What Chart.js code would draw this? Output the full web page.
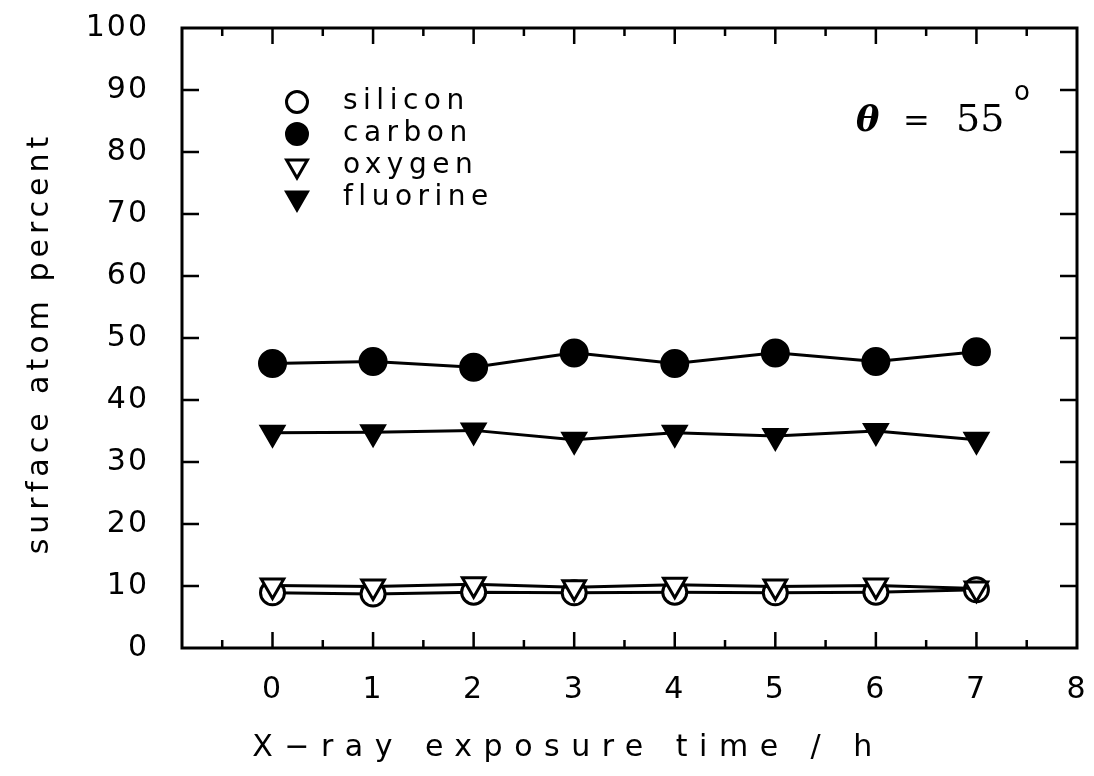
<!DOCTYPE html>
<html>
<head>
<meta charset="utf-8">
<script src="https://cdn.jsdelivr.net/npm/chart.js@4/dist/chart.umd.min.js"></script>
<style>
  html, body { margin: 0; padding: 0; background: #fff; }
  #wrap { width: 1094px; height: 776px; }
</style>
</head>
<body>
<div id="wrap"><canvas id="chart"></canvas></div>
<script>
// exposure time (h)
var times = [0, 1, 2, 3, 4, 5, 6, 7];
// surface atom percent
var silicon = [8.9, 8.7, 9.0, 8.9, 9.0, 8.9, 9.0, 9.4];
var carbon = [45.9, 46.2, 45.3, 47.6, 45.9, 47.6, 46.2, 47.8];
var oxygen = [10.1, 9.9, 10.3, 9.8, 10.2, 9.9, 10.1, 9.6];
var fluorine = [34.7, 34.8, 35.1, 33.6, 34.7, 34.2, 35.0, 33.6];

var xTicks = [0, 1, 2, 3, 4, 5, 6, 7, 8];
var xMinorTicks = [-0.5, 0.5, 1.5, 2.5, 3.5, 4.5, 5.5, 6.5, 7.5];
var yTicks = [0, 10, 20, 30, 40, 50, 60, 70, 80, 90, 100];

var seriesNames = ['silicon', 'carbon', 'oxygen', 'fluorine'];

function pts(ys) {
  return times.map(function (t, i) { return { x: t, y: ys[i] }; });
}

function makeSet(label, ys, style, filled, radius, order) {
  return {
    label: label,
    data: pts(ys),
    borderColor: '#000',
    borderWidth: 3,
    pointStyle: style,
    pointRotation: style === 'triangle' ? 180 : 0,
    pointRadius: radius,
    pointBorderWidth: 3,
    pointBackgroundColor: filled ? '#000' : '#fff',
    pointBorderColor: '#000',
    tension: 0,
    order: order
  };
}

var FONT = '"DejaVu Sans", "Liberation Sans", sans-serif';

// no extra room for the edge labels, the frame is fixed
function noPad(s) {
  s.paddingTop = 0; s.paddingBottom = 0;
  s.paddingLeft = 0; s.paddingRight = 0;
}

// frame, tick marks, titles, legend and angle note
var decorPlugin = {
  id: 'decor',
  beforeDraw: function (chart) {
    chart.ctx.letterSpacing = '2px';
  },
  afterDraw: function (chart) {
    var ctx = chart.ctx;
    var a = chart.chartArea;
    var xs = chart.scales.x, ys = chart.scales.y;
    ctx.save();
    ctx.strokeStyle = '#000';
    ctx.fillStyle = '#000';
    ctx.lineWidth = 3;
    ctx.strokeRect(a.left, a.top, a.right - a.left, a.bottom - a.top);

    ctx.lineWidth = 2.5;
    ctx.beginPath();
    xTicks.concat(xMinorTicks).forEach(function (v) {
      var len = xMinorTicks.indexOf(v) >= 0 ? 8 : 16;
      var px = xs.getPixelForValue(v);
      if (px <= a.left + 2 || px >= a.right - 2) return;
      ctx.moveTo(px, a.bottom); ctx.lineTo(px, a.bottom - len);
      ctx.moveTo(px, a.top); ctx.lineTo(px, a.top + len);
    });
    yTicks.forEach(function (v) {
      var py = ys.getPixelForValue(v);
      if (py <= a.top + 2 || py >= a.bottom - 2) return;
      ctx.moveTo(a.left, py); ctx.lineTo(a.left + 17, py);
      ctx.moveTo(a.right, py); ctx.lineTo(a.right - 17, py);
    });
    ctx.stroke();

    // axis titles
    ctx.font = '30px ' + FONT;
    ctx.textAlign = 'center';
    ctx.textBaseline = 'middle';
    ctx.letterSpacing = '11.5px';
    ctx.fillText('X\u2212ray exposure time / h', 568, 748);
    ctx.letterSpacing = '5px';
    ctx.save();
    ctx.translate(40, 343);
    ctx.rotate(-Math.PI / 2);
    ctx.fillText('surface atom percent', 0, 0);
    ctx.restore();

    // legend
    ctx.letterSpacing = '5.5px';
    ctx.font = '28px ' + FONT;
    ctx.textAlign = 'left';
    chart.data.datasets.forEach(function (ds, i) {
      var cy = 102 + i * 32, cx = 297;
      ctx.lineWidth = 3;
      ctx.beginPath();
      if (ds.pointStyle === 'circle') {
        ctx.arc(cx, cy, 10.5, 0, Math.PI * 2);
      } else {
        var r = 12;
        ctx.moveTo(cx - r * 0.866, cy - r / 2);
        ctx.lineTo(cx + r * 0.866, cy - r / 2);
        ctx.lineTo(cx, cy + r);
        ctx.closePath();
      }
      ctx.fillStyle = ds.pointBackgroundColor;
      ctx.fill();
      ctx.stroke();
      ctx.fillStyle = '#000';
      ctx.fillText(ds.label, 343, cy);
    });

    // angle note
    ctx.letterSpacing = '0px';
    ctx.textBaseline = 'alphabetic';
    ctx.font = 'italic bold 35px "DejaVu Serif", serif';
    ctx.fillText('\u03b8', 856, 131);
    ctx.font = '32px "DejaVu Serif", serif';
    ctx.fillText('=', 903, 131);
    ctx.font = '38px "DejaVu Serif", serif';
    ctx.fillText('55', 956, 131);
    ctx.font = '26px "DejaVu Sans", sans-serif';
    ctx.fillText('o', 1014, 100);
    ctx.restore();
  }
};

new Chart(document.getElementById('chart'), {
  type: 'line',
  data: {
    datasets: [
      makeSet(seriesNames[0], silicon, 'circle', false, 12, 4),
      makeSet(seriesNames[1], carbon, 'circle', true, 13, 2),
      makeSet(seriesNames[2], oxygen, 'triangle', false, 13, 3),
      makeSet(seriesNames[3], fluorine, 'triangle', true, 13, 1)
    ]
  },
  options: {
    responsive: true,
    maintainAspectRatio: false,
    animation: false,
    layout: { autoPadding: false, padding: { top: 28, right: 17, left: 0, bottom: 0 } },
    plugins: {
      legend: { display: false },
      tooltip: { enabled: false }
    },
    scales: {
      x: {
        type: 'linear',
        min: -0.9,
        max: 8,
        grid: { display: false },
        border: { display: false },
        afterBuildTicks: function (s) {
          s.ticks = xTicks.map(function (v) { return { value: v }; });
        },
        afterFit: function (s) { s.height = 128; noPad(s); },
        ticks: {
          color: '#000',
          padding: 16,
          maxRotation: 0,
          font: { family: FONT, size: 30 }
        }
      },
      y: {
        min: 0,
        max: 100,
        grid: { display: false },
        border: { display: false },
        afterBuildTicks: function (s) {
          s.ticks = yTicks.map(function (v) { return { value: v }; });
        },
        afterFit: function (s) { s.width = 182; noPad(s); },
        ticks: {
          color: '#000',
          padding: 25,
          font: { family: FONT, size: 30 }
        }
      }
    }
  },
  plugins: [decorPlugin]
});
</script>
</body>
</html>
